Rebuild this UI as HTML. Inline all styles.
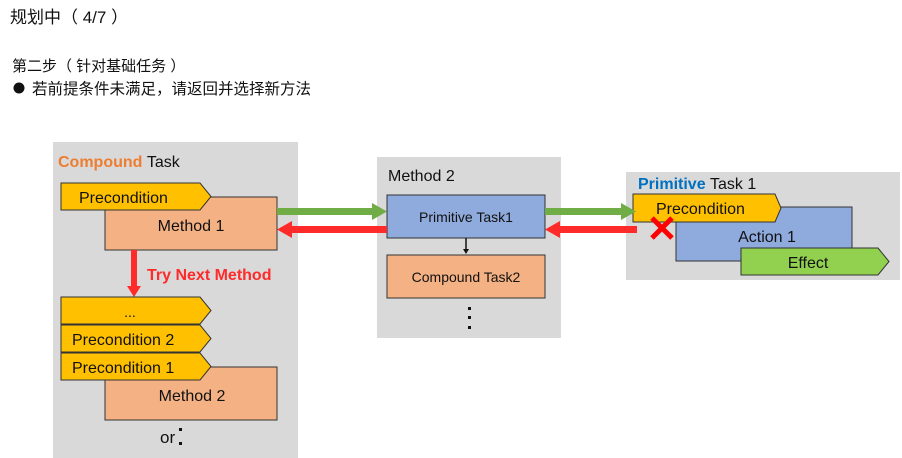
<!DOCTYPE html>
<html><head><meta charset="utf-8"><style>
html,body{margin:0;padding:0;background:#fff;width:902px;height:458px;overflow:hidden}
svg{display:block}
text{font-family:"Liberation Sans","Noto Sans CJK SC",sans-serif}
</style></head><body>
<svg width="902" height="458" viewBox="0 0 902 458" xmlns="http://www.w3.org/2000/svg">
<text x="10" y="23" font-size="17" fill="#111">规划中（ 4/7 ）</text>
<text x="12" y="71" font-size="15" fill="#111">第二步（ 针对基础任务 ）</text>
<circle cx="19" cy="88" r="5.5" fill="#111"/>
<text x="32" y="94" font-size="15.5" fill="#111">若前提条件未满足，请返回并选择新方法</text>

<!-- Compound Task box -->
<rect x="53" y="142" width="245" height="316" fill="#d9d9d9"/>
<text x="58" y="167" font-size="16" font-weight="bold" fill="#ed7d31">Compound <tspan font-weight="normal" fill="#111">Task</tspan></text>
<rect x="105" y="197" width="172" height="53" fill="#f4b183" stroke="#333" stroke-width="1"/>
<polygon points="61,183 200,183 211,196.5 200,210 61,210" fill="#ffc000" stroke="#333" stroke-width="1"/>
<text x="79" y="203" font-size="16" fill="#111">Precondition</text>
<text x="191" y="231" font-size="16" fill="#111" text-anchor="middle">Method 1</text>
<rect x="131" y="250" width="6" height="37" fill="#ff2a2a"/>
<polygon points="127,286 141,286 134,297" fill="#ff2a2a"/>
<text x="147" y="280" font-size="16" font-weight="bold" fill="#ff2a2a">Try Next Method</text>
<polygon points="61,297 200,297 211,310.5 200,324 61,324" fill="#ffc000" stroke="#333" stroke-width="1"/>
<text x="130" y="317" font-size="14" fill="#111" text-anchor="middle">...</text>
<polygon points="61,325 200,325 211,338.5 200,352 61,352" fill="#ffc000" stroke="#333" stroke-width="1"/>
<text x="72" y="345" font-size="16" fill="#111">Precondition 2</text>
<rect x="105" y="367" width="172" height="53" fill="#f4b183" stroke="#333" stroke-width="1"/>
<polygon points="61,353 200,353 211,366.5 200,380 61,380" fill="#ffc000" stroke="#333" stroke-width="1"/>
<text x="72" y="373" font-size="16" fill="#111">Precondition 1</text>
<text x="192" y="401" font-size="16" fill="#111" text-anchor="middle">Method 2</text>
<text x="160" y="443" font-size="17" fill="#111">or</text>
<rect x="179" y="428" width="3" height="3" fill="#111"/>
<rect x="179" y="442" width="3" height="3" fill="#111"/>

<!-- Method 2 box -->
<rect x="377" y="157" width="184" height="181" fill="#d9d9d9"/>
<text x="388" y="181" font-size="16" fill="#111">Method 2</text>
<rect x="387" y="195" width="158" height="43" fill="#8faadc" stroke="#333" stroke-width="1"/>
<text x="466" y="222" font-size="14" fill="#111" text-anchor="middle">Primitive Task1</text>
<line x1="466" y1="238" x2="466" y2="251" stroke="#111" stroke-width="1.5"/>
<polygon points="463,249 469,249 466,254" fill="#111"/>
<rect x="387" y="255" width="158" height="43" fill="#f4b183" stroke="#333" stroke-width="1"/>
<text x="466" y="282" font-size="14" fill="#111" text-anchor="middle">Compound Task2</text>
<rect x="468" y="307" width="3" height="3" fill="#111"/>
<rect x="468" y="316" width="3" height="3" fill="#111"/>
<rect x="468" y="326" width="3" height="3" fill="#111"/>

<!-- Primitive Task box -->
<rect x="626" y="172" width="274" height="108" fill="#d9d9d9"/>
<text x="638" y="189" font-size="16" font-weight="bold" fill="#0070c0">Primitive <tspan font-weight="normal" fill="#111">Task 1</tspan></text>
<rect x="676" y="207" width="176" height="54" fill="#8faadc" stroke="#333" stroke-width="1"/>
<polygon points="633,194 775,194 781,208 775,222 633,222" fill="#ffc000" stroke="#333" stroke-width="1"/>
<text x="656" y="214" font-size="16" fill="#111">Precondition</text>
<text x="767" y="242" font-size="16" fill="#111" text-anchor="middle">Action 1</text>
<polygon points="741,248 878,248 889,261.5 878,275 741,275" fill="#92d050" stroke="#333" stroke-width="1"/>
<text x="808" y="268" font-size="16" fill="#111" text-anchor="middle">Effect</text>
<line x1="652" y1="218" x2="672" y2="238" stroke="#ff0000" stroke-width="5"/>
<line x1="672" y1="218" x2="652" y2="238" stroke="#ff0000" stroke-width="5"/>

<!-- arrows -->
<rect x="277" y="208" width="97" height="7" fill="#70ad47"/>
<polygon points="372,203 387,211.5 372,220" fill="#70ad47"/>
<rect x="290" y="226" width="97" height="7" fill="#ff2a2a"/>
<polygon points="292,221 277,229.5 292,238" fill="#ff2a2a"/>
<rect x="545" y="208" width="78" height="7" fill="#70ad47"/>
<polygon points="621,203 636,211.5 621,220" fill="#70ad47"/>
<rect x="558" y="226" width="79" height="7" fill="#ff2a2a"/>
<polygon points="560,221 545,229.5 560,238" fill="#ff2a2a"/>
</svg>
</body></html>
